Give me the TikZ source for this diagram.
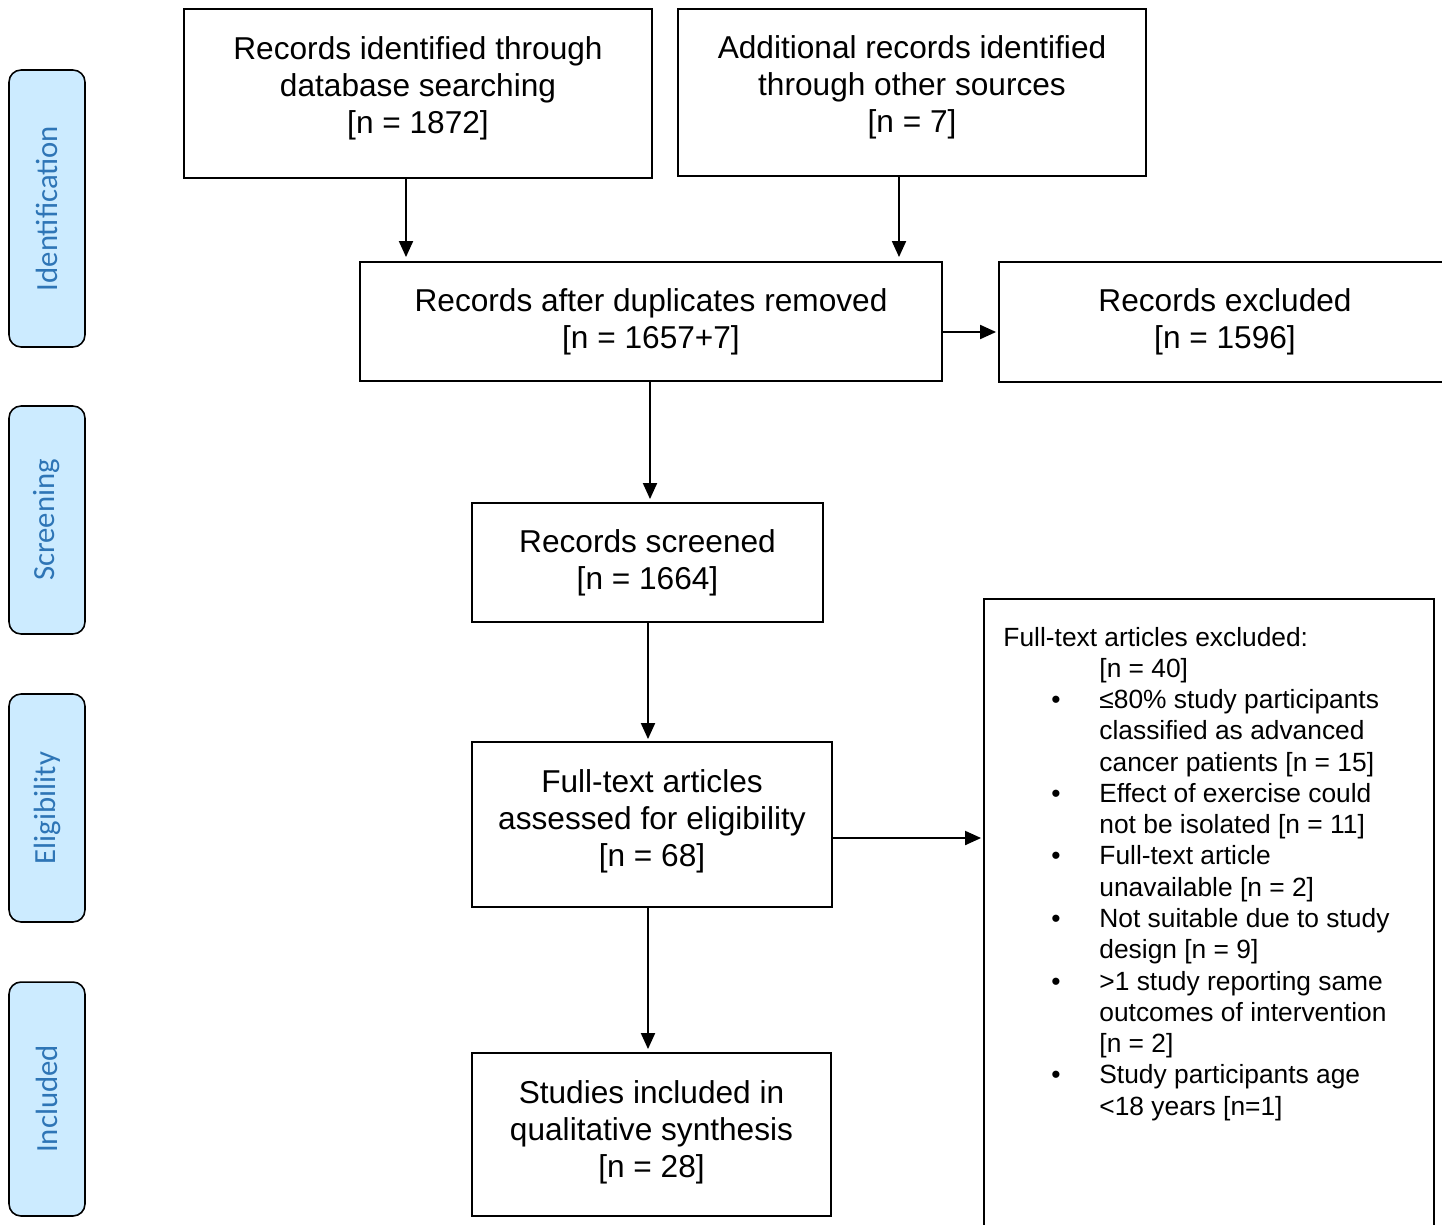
\documentclass[tikz,border=0pt]{standalone}
\usepackage{fontspec}
\setmainfont{Liberation Sans}
\newfontfamily\stagefont{Carlito}
\usetikzlibrary{arrows.meta}
\newcommand{\exind}{\hspace*{1.92cm}}
\newcommand{\exbul}{\hspace*{0.96cm}\makebox[0.96cm][l]{\textbullet}}

\begin{document}
\begin{tikzpicture}[x=0.02cm,y=-0.02cm,
    box/.style={draw,line width=1.1pt,align=center,inner sep=0pt,
      font=\fontsize{18}{21}\selectfont},
    stage/.style={draw,line width=0.9pt,rounded corners=0.24cm,fill=stagefill,
      text=stagetext,rotate=90,minimum height=1.52cm,inner sep=0pt,
      font=\stagefont\fontsize{17.5}{21}\selectfont},
    arr/.style={-{Triangle[length=0.32cm,width=0.28cm]},line width=1.1pt}]
  \definecolor{stagefill}{HTML}{CCEBFF}
  \definecolor{stagetext}{HTML}{2E75B6}

  \useasboundingbox (0,0) rectangle (1442,1224);

  % Phases
  \node[stage,minimum width=5.54cm] (ident) at (47,208.5) {Identification};
  \node[stage,minimum width=4.56cm] (screen) at (47,520) {Screening};
  \node[stage,minimum width=4.56cm] (elig) at (47,808) {Eligibility};
  \node[stage,minimum width=4.68cm] (incl) at (47,1099) {Included};

  % Identification
  \node[box,minimum width=9.36cm,minimum height=3.38cm,text depth=0.33cm] (dbs) at (418,93.5)
    {Records identified through\\database searching\\{[n = 1872]}};
  \node[box,minimum width=9.36cm,minimum height=3.34cm,text depth=0.33cm] (other) at (912,92.5)
    {Additional records identified\\through other sources\\{[n = 7]}};
  \node[box,minimum width=11.64cm,minimum height=2.38cm] (dedup) at (651,321.5)
    {Records after duplicates removed\\{[n = 1657+7]}};
  \node[box,minimum width=9.04cm,minimum height=2.4cm] (recex) at (1225,322)
    {Records excluded\\{[n = 1596]}};

  % Screening, eligibility, included
  \node[box,minimum width=7.02cm,minimum height=2.38cm] (screened) at (647.5,562.5)
    {Records screened\\{[n = 1664]}};
  \node[box,minimum width=7.2cm,minimum height=3.3cm,text depth=0.25cm] (fulltext) at (652,824.5)
    {Full-text articles\\assessed for eligibility\\{[n = 68]}};
  \node[box,minimum width=7.18cm,minimum height=3.26cm,text depth=0.21cm] (included) at (651.5,1134.5)
    {Studies included in\\qualitative synthesis\\{[n = 28]}};

  % Exclusions
  \node[box,minimum width=9cm,minimum height=12.82cm] (excl) at (1209,919.5) {};
  \node[anchor=north west,align=left,inner sep=0pt,font=\fontsize{15}{17.8}\selectfont]
    (exlist) at ([xshift=0.4cm,yshift=-0.57cm]excl.north west)
    {Full-text articles excluded:\\
     \exind [n = 40]\\
     \exbul ≤80\% study participants\\
     \exind classified as advanced\\
     \exind cancer patients [n = 15]\\
     \exbul Effect of exercise could\\
     \exind not be isolated [n = 11]\\
     \exbul Full-text article\\
     \exind unavailable [n = 2]\\
     \exbul Not suitable due to study\\
     \exind design [n = 9]\\
     \exbul >1 study reporting same\\
     \exind outcomes of intervention\\
     \exind [n = 2]\\
     \exbul Study participants age\\
     \exind <18 years [n=1]};

  % Arrows
  \draw[arr,shorten >=0.08cm] ([xshift=-0.24cm]dbs.south) -- ([xshift=-0.24cm]dbs.south |- dedup.north);
  \draw[arr,shorten >=0.08cm] ([xshift=-0.26cm]other.south) -- ([xshift=-0.26cm]other.south |- dedup.north);
  \draw[arr,shorten >=0.04cm] ([yshift=-0.21cm]dedup.east) -- ([yshift=-0.21cm]dedup.east -| recex.west);
  \draw[arr,shorten >=0.06cm] ([xshift=-0.02cm]dedup.south) -- ([xshift=-0.02cm]dedup.south |- screened.north);
  \draw[arr,shorten >=0.04cm] ([xshift=0.01cm]screened.south) -- ([xshift=0.01cm]screened.south |- fulltext.north);
  \draw[arr,shorten >=0.04cm] ([yshift=-0.27cm]fulltext.east) -- ([yshift=-0.27cm]fulltext.east -| excl.west);
  \draw[arr,shorten >=0.06cm] ([xshift=-0.08cm]fulltext.south) -- ([xshift=-0.08cm]fulltext.south |- included.north);
\end{tikzpicture}
\end{document}
